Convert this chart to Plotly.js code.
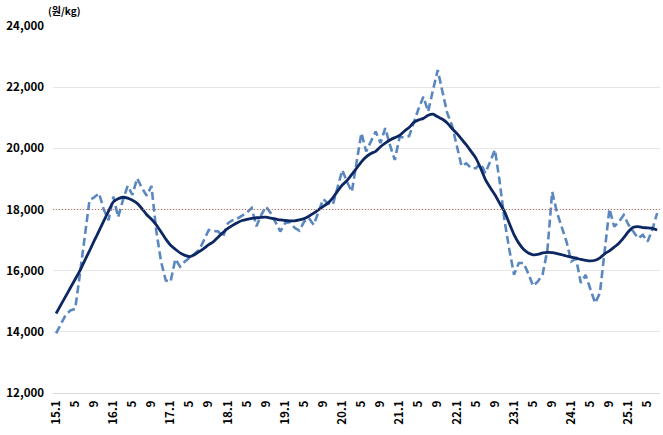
<!DOCTYPE html>
<html>
<head>
<meta charset="utf-8">
<script src="https://cdn.plot.ly/plotly-3.0.1.min.js"></script>
<style>
html,body{margin:0;padding:0;background:#fff;}
#chart{width:663px;height:435px;}
</style>
</head>
<body>
<div id="chart"></div>
<script>
// Monthly price (원/kg), 2015.1 – 2025.7 (dashed series)
const price = [
  13950, 14250, 14550, 14700, 14750, 15900, 17100, 18300, 18400, 18530, 18000, 17650,
  18420, 17750, 18300, 18770, 18480, 19020, 18700, 18450, 18770, 17300, 16300, 15680,
  15640, 16380, 16130, 16300, 16420, 16550, 16680, 17000, 17330, 17300, 17280, 17110,
  17550, 17650, 17700, 17800, 17900, 18050, 17450, 17820, 18100, 17880, 17600, 17280,
  17550, 17600, 17400, 17310, 17600, 17720, 17500, 17900, 18340, 18200, 18150, 18720,
  19290, 18900, 18580, 19550, 20500, 19900, 20200, 20550, 20170, 20660, 20100, 19620,
  20360, 20360, 20400, 20870, 21300, 21690, 21200, 21900, 22560, 21850, 21150, 20750,
  20100, 19420, 19510, 19350, 19350, 19510, 19190, 19560, 19950, 18900, 17650, 16700,
  15870, 16250, 16250, 15900, 15500, 15650, 15880, 16680, 18580, 17900, 17450, 16950,
  16300, 16400, 15600, 15860, 15400, 14940, 15270, 16600, 18020, 17440, 17600, 17820,
  17500, 17280, 17060, 17170, 16950, 17350, 17880
];
// Smoothed trend (solid series)
const trend = [
  14600, 14880, 15160, 15440, 15720, 16000, 16330, 16650, 16980, 17300, 17630, 17950,
  18250, 18350, 18400, 18370, 18300, 18200, 18030, 17830, 17680, 17500, 17270, 17030,
  16830, 16700, 16580, 16500, 16460, 16520, 16620, 16730, 16850, 16950, 17100, 17250,
  17380, 17480, 17570, 17640, 17680, 17710, 17730, 17745, 17750, 17720, 17690, 17660,
  17640, 17630, 17630, 17660, 17700, 17780, 17880, 17990, 18100, 18210, 18380, 18600,
  18800, 18950, 19150, 19350, 19560, 19720, 19830, 19900, 20050, 20170, 20270, 20350,
  20420, 20560, 20680, 20850, 20930, 20980, 21080, 21120, 21030, 20950, 20830, 20650,
  20490, 20300, 20110, 19900, 19680, 19350, 18980, 18720, 18480, 18200, 17930, 17550,
  17180, 16900, 16700, 16580, 16520, 16530, 16580, 16600, 16590, 16560, 16520, 16480,
  16440, 16410, 16370, 16340, 16320, 16340, 16420, 16550, 16650, 16770, 16900, 17080,
  17280, 17420, 17440, 17410, 17400, 17380, 17330
];
// Tick labels (every 4 months)
const tickLabels = [
  "15.1","5","9","16.1","5","9","17.1","5","9","18.1","5","9",
  "19.1","5","9","20.1","5","9","21.1","5","9","22.1","5","9",
  "23.1","5","9","24.1","5","9","25.1","5"
];
const refLevel = 18000;

const x = price.map((_, i) => i);
const tickvals = tickLabels.map((_, k) => k * 4);

const fontFam = "'Noto Sans CJK KR', 'Liberation Sans', sans-serif";

const traces = [
  {
    x: x, y: price, type: 'scatter', mode: 'lines',
    line: {color: '#5B87C0', width: 2.6, dash: '8px,4px'},
    hoverinfo: 'skip'
  },
  {
    x: x, y: trend, type: 'scatter', mode: 'lines',
    line: {color: '#0D2762', width: 2.8, shape: 'spline', smoothing: 0.6},
    hoverinfo: 'skip'
  }
];

const layout = {
  width: 663, height: 435,
  margin: {l: 53, r: 3, t: 26, b: 42},
  paper_bgcolor: '#ffffff', plot_bgcolor: '#ffffff',
  showlegend: false,
  font: {family: fontFam, color: '#000'},
  xaxis: {
    range: [-0.65, 126.6],
    tickmode: 'array', tickvals: tickvals, ticktext: tickLabels,
    tickangle: -90,
    tickfont: {family: fontFam, size: 11.5, weight: 'bold', color: '#000'},
    showgrid: false, zeroline: false,
    showline: true, linecolor: '#D9D9D9', linewidth: 1,
    ticks: '', ticklen: 0, ticklabelstandoff: 2
  },
  yaxis: {
    range: [12000, 24000],
    tickvals: [12000, 14000, 16000, 18000, 20000, 22000, 24000],
    tickformat: ',d',
    tickfont: {family: fontFam, size: 11.5, weight: 'bold', color: '#000'},
    showgrid: true, gridcolor: '#E6E6E6', gridwidth: 1,
    zeroline: false, showline: false, ticks: '', ticklen: 0,
    ticklabelstandoff: 8
  },
  shapes: [{
    type: 'line', xref: 'paper', yref: 'y',
    x0: 0, x1: 1, y0: refLevel, y1: refLevel,
    line: {color: '#C0705A', width: 1, dash: '1px,2px'}
  }],
  annotations: [{
    xref: 'paper', yref: 'paper', x: -0.012, y: 1.0, yshift: 6,
    xanchor: 'left', yanchor: 'bottom',
    text: '(원/kg)', showarrow: false,
    font: {family: fontFam, size: 10, weight: 'bold', color: '#000'}
  }]
};

Plotly.newPlot('chart', traces, layout, {displayModeBar: false, staticPlot: true});
</script>
</body>
</html>
